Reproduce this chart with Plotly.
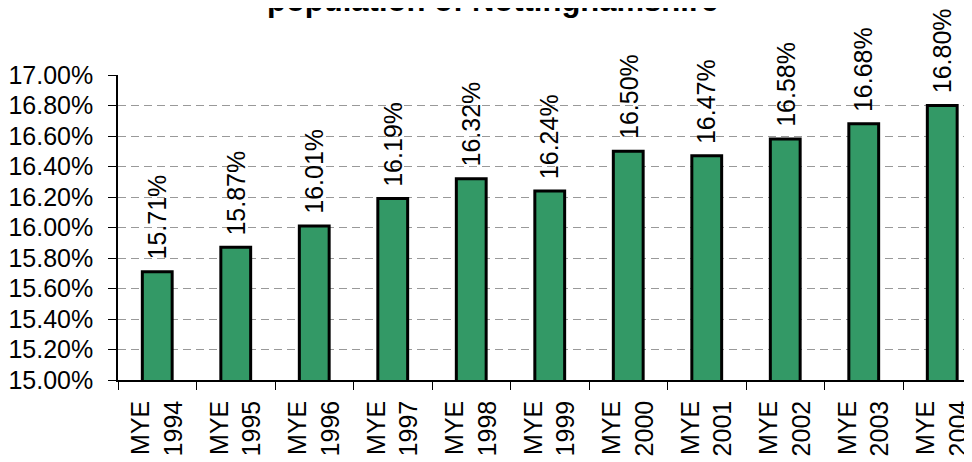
import plotly.graph_objects as go

years = ["1994", "1995", "1996", "1997", "1998", "1999", "2000", "2001", "2002", "2003", "2004"]
tick_labels = ["MYE<br>" + y for y in years]
values_pct = [15.71, 15.87, 16.01, 16.19, 16.32, 16.24, 16.50, 16.47, 16.58, 16.68, 16.80]
title_text = "population of Nottinghamshire"

FONT = "Liberation Sans, Arial, sans-serif"
vals = [v / 100 for v in values_pct]
labels = [f"{v:.2f}%" for v in values_pct]

fig = go.Figure()
fig.add_trace(go.Bar(
    x=years, y=vals,
    width=0.38,
    marker=dict(color="#339966", line=dict(color="#000000", width=3)),
    hoverinfo="skip",
))

for i, (v, lab) in enumerate(zip(vals, labels)):
    fig.add_annotation(
        x=i, y=v, xref="x", yref="y", text=lab, textangle=-90,
        xanchor="center", yanchor="bottom", yshift=10,
        showarrow=False,
        font=dict(family=FONT, size=25, color="#000000"),
    )

fig.add_annotation(
    text="<b>" + title_text + "</b>",
    xref="paper", yref="paper", x=0.438, y=1.245,
    xanchor="center", yanchor="middle", showarrow=False,
    font=dict(family=FONT, size=31, color="#000000"),
)

fig.update_layout(
    width=964, height=454,
    margin=dict(l=110, r=0, t=67, b=82),
    paper_bgcolor="white", plot_bgcolor="white",
    showlegend=False,
    font=dict(family=FONT, size=25, color="#000000"),
)
fig.update_xaxes(
    type="category",
    tickvals=years, ticktext=tick_labels,
    range=[-0.5, 10.379],
    tickangle=-90,
    ticks="outside", tickson="boundaries", ticklen=8, tickwidth=1, tickcolor="#000000",
    showline=True, linecolor="#000000", linewidth=1.5,
    showgrid=False,
    ticklabelstandoff=9,
    tickfont=dict(family=FONT, size=25, color="#000000"),
)
fig.update_yaxes(
    range=[0.15, 0.17], dtick=0.002, tick0=0.15, tickformat=".2%",
    ticks="outside", ticklen=8, tickwidth=1, tickcolor="#000000",
    showline=True, linecolor="#000000", linewidth=1.5,
    showgrid=True, gridcolor="#999999", gridwidth=1, griddash="8px,5px",
    zeroline=False,
    ticklabelstandoff=10,
    tickfont=dict(family=FONT, size=25, color="#000000"),
)

fig.write_html("out.html")
